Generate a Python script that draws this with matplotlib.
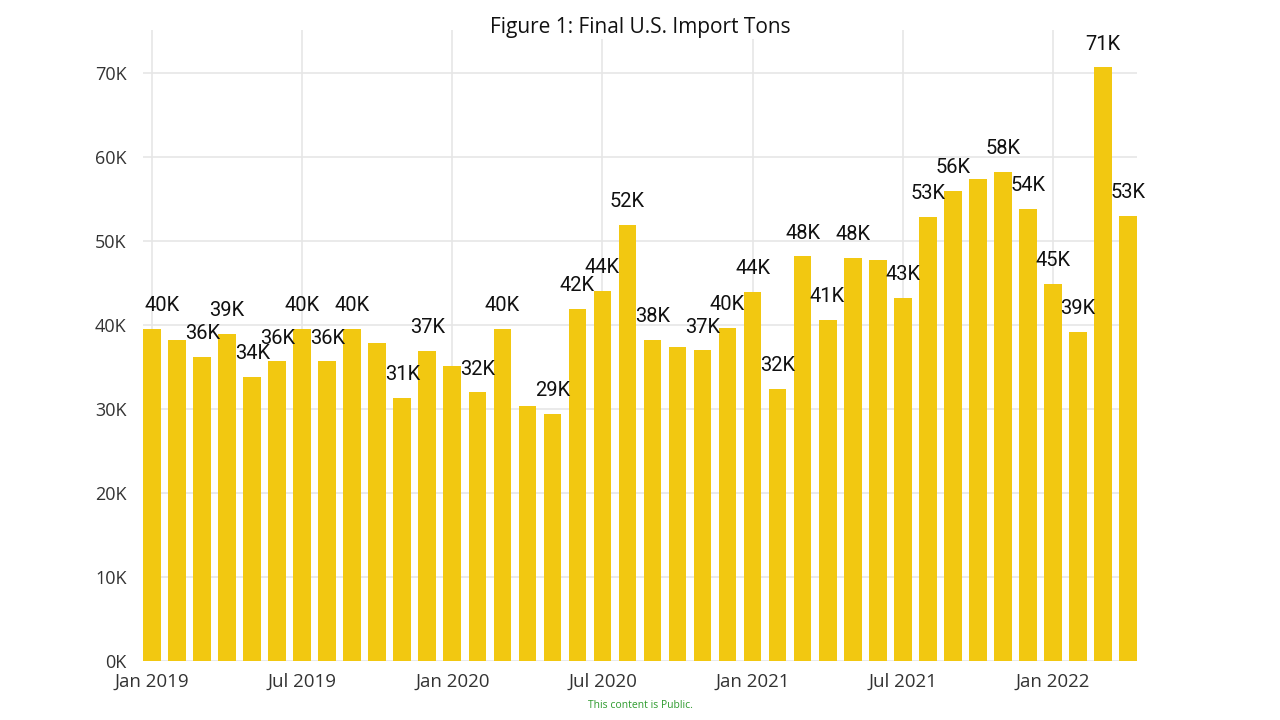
import matplotlib
matplotlib.use("Agg")
import matplotlib.pyplot as plt
import numpy as np

months = ["Jan 2019", "Feb 2019", "Mar 2019", "Apr 2019", "May 2019", "Jun 2019",
          "Jul 2019", "Aug 2019", "Sep 2019", "Oct 2019", "Nov 2019", "Dec 2019",
          "Jan 2020", "Feb 2020", "Mar 2020", "Apr 2020", "May 2020", "Jun 2020",
          "Jul 2020", "Aug 2020", "Sep 2020", "Oct 2020", "Nov 2020", "Dec 2020",
          "Jan 2021", "Feb 2021", "Mar 2021", "Apr 2021", "May 2021", "Jun 2021",
          "Jul 2021", "Aug 2021", "Sep 2021", "Oct 2021", "Nov 2021", "Dec 2021",
          "Jan 2022", "Feb 2022", "Mar 2022", "Apr 2022"]
tons = [39.6, 38.2, 36.2, 39.0, 33.8, 35.7, 39.6, 35.7, 39.6, 37.9, 31.4, 36.9,
        35.2, 32.0, 39.6, 30.4, 29.4, 41.9, 44.1, 51.9, 38.3, 37.4, 37.0, 39.7,
        44.0, 32.4, 48.2, 40.6, 48.0, 47.8, 43.3, 52.9, 56.0, 57.4, 58.3, 53.9,
        44.9, 39.2, 70.7, 53.0]  # thousands of tons
shown_labels = [1, 0, 1, 1, 1, 1, 1, 1, 1, 0, 1, 1,
                0, 1, 1, 0, 1, 1, 1, 1, 1, 0, 1, 1,
                1, 1, 1, 1, 1, 0, 1, 1, 1, 0, 1, 1,
                1, 1, 1, 1]
tick_months = ["Jan 2019", "Jul 2019", "Jan 2020", "Jul 2020", "Jan 2021", "Jul 2021", "Jan 2022"]
y_ticks = [0, 10, 20, 30, 40, 50, 60, 70]
title = "Figure 1: Final U.S. Import Tons"
footer = "This content is Public."

fig = plt.figure(figsize=(12.8, 7.2), dpi=100)
W, H = 1280, 720
ax_left, ax_right = 143.3, 1136.7
ax_top, ax_bot = 30, 661.3
ax = fig.add_axes([ax_left / W, 1 - ax_bot / H, (ax_right - ax_left) / W, (ax_bot - ax_top) / H])

x = np.arange(len(months))
bw = 0.71
ax.bar(x, tons, width=bw, color="#F2C811", zorder=3)

ax.set_xlim(-bw / 2, len(months) - 1 + bw / 2)
ymax = (ax_bot - ax_top) / 84.0 * 10
ax.set_ylim(0, ymax)

ax.set_yticks(y_ticks)
ax.set_yticklabels([f"{v}K" for v in y_ticks], fontsize=13, color="#333333",
                   fontfamily=["Open Sans", "DejaVu Sans"])
tpos = [months.index(m) for m in tick_months]
ax.set_xticks(tpos)
ax.set_xticklabels(tick_months, fontsize=13.5, color="#333333",
                   fontfamily=["Open Sans", "DejaVu Sans"])
ax.tick_params(axis="both", length=0)
ax.tick_params(axis="y", pad=12)
ax.tick_params(axis="x", pad=8)

for s in ax.spines.values():
    s.set_visible(False)
ax.grid(True, axis="both", color="#E6E6E6", linewidth=1.2, zorder=0)
ax.set_axisbelow(True)

for i, (v, show) in enumerate(zip(tons, shown_labels)):
    if show:
        dx = 7 if i == 0 else 0
        ax.annotate(f"{round(v):.0f}K", (i, v), xytext=(dx, 10), textcoords="offset points",
                    ha="center", va="bottom", fontsize=14.5, color="#111111",
                    fontfamily=["Roboto", "DejaVu Sans"], zorder=5)

fig.text(0.5, 1 - 27 / H, title, ha="center", va="center", fontsize=15,
         color="#111111", fontfamily=["Open Sans", "DejaVu Sans"],
         bbox=dict(facecolor="white", edgecolor="none", pad=1))
fig.text(0.5, 1 - 705 / H, footer, ha="center", va="center", fontsize=7.5,
         color="#2E9B2E", fontfamily=["Open Sans", "DejaVu Sans"])

fig.savefig("out.png", dpi=100, facecolor="white")
